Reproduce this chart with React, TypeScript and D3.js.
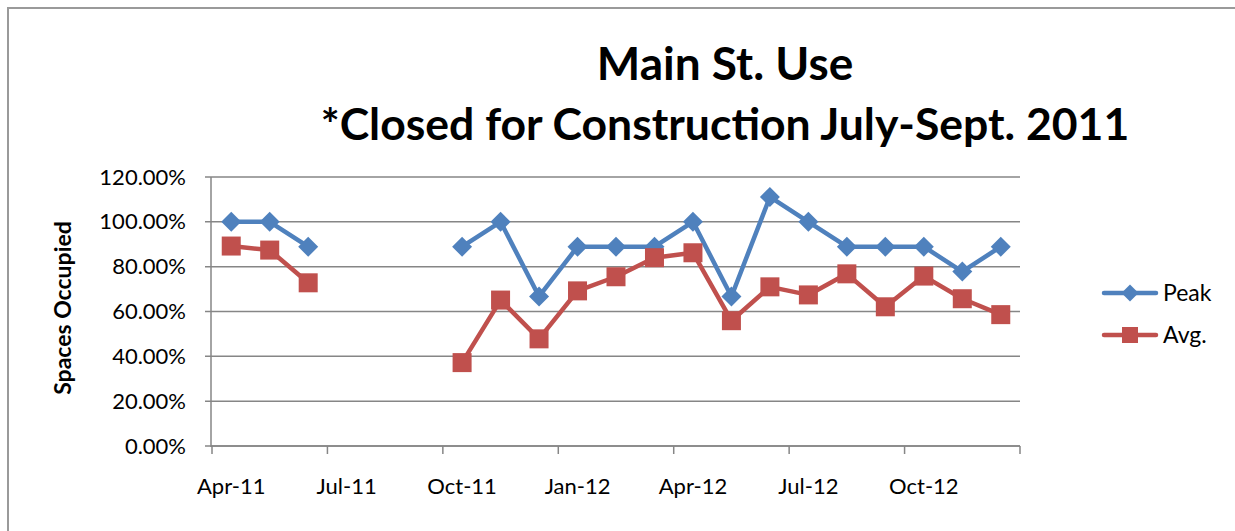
import React from "react";
import * as d3 from "d3";

const months = [
  "Apr-11", "May-11", "Jun-11", "Jul-11", "Aug-11", "Sep-11", "Oct-11", "Nov-11", "Dec-11",
  "Jan-12", "Feb-12", "Mar-12", "Apr-12", "May-12", "Jun-12", "Jul-12", "Aug-12", "Sep-12",
  "Oct-12", "Nov-12", "Dec-12",
];
const peak: (number | null)[] = [
  100, 100, 88.9, null, null, null, 88.9, 100, 66.7,
  88.9, 88.9, 88.9, 100, 66.7, 111.1, 100, 88.9, 88.9,
  88.9, 77.8, 88.9,
];
const avg: (number | null)[] = [
  89.2, 87.4, 72.8, null, null, null, 37.2, 65.1, 47.8,
  69.2, 75.5, 84.0, 86.2, 55.9, 71.0, 67.4, 76.8, 62.1,
  75.8, 65.7, 58.6,
];
const yTicks = [0, 20, 40, 60, 80, 100, 120];
const xTickLabels = ["Apr-11", "Jul-11", "Oct-11", "Jan-12", "Apr-12", "Jul-12", "Oct-12"];

const BLUE = "#4F81BD";
const RED = "#C0504D";
const GRID = "#868686";
const FONT = "Lato, 'Open Sans', sans-serif";

export default function App() {
  const W = 1235, H = 531;
  const left = 212, right = 1020, top = 177, bottom = 446;
  const x = d3.scaleLinear().domain([0, months.length]).range([left, right]);
  const y = d3.scaleLinear().domain([0, 120]).range([bottom, top]);
  const px = (i: number) => x(i + 0.5);

  const line = d3
    .line<number | null>()
    .defined((d) => d !== null)
    .x((_, i) => px(i))
    .y((d) => y(d as number));

  const tickIdx = d3.range(0, months.length + 1, 3);

  const diamond = (cx: number, cy: number, r: number) =>
    `M${cx},${cy - r}L${cx + r},${cy}L${cx},${cy + r}L${cx - r},${cy}Z`;

  return (
    <svg width={W} height={H} style={{ display: "block", position: "fixed", left: 0, top: 0, overflow: "hidden" }}>
      <rect x={0} y={0} width={W} height={H} fill="#fff" />
      <line x1={8} y1={8} x2={8} y2={H} stroke="#9a9a9a" strokeWidth={2} />
      <line x1={7} y1={8} x2={W} y2={8} stroke="#9a9a9a" strokeWidth={2} />
      <text x={725} y={80} textAnchor="middle" fontFamily={FONT} fontWeight="bold" fontSize={46} fill="#000">
        Main St. Use
      </text>
      <text x={725} y={140} textAnchor="middle" fontFamily={FONT} fontWeight="bold" fontSize={44.5} fill="#000">
        *Closed for Construction July-Sept. 2011
      </text>

      {yTicks.map((t) => (
        <g key={t}>
          <line x1={205} x2={right} y1={y(t)} y2={y(t)} stroke={GRID} strokeWidth={1.5} />
          <text x={186} y={y(t) + 7.5} textAnchor="end" fontFamily={FONT} fontSize={22} fill="#000">
            {t.toFixed(2)}%
          </text>
        </g>
      ))}
      <line x1={left - 1} x2={left - 1} y1={top} y2={bottom + 1} stroke={GRID} strokeWidth={1.5} />
      <line x1={left - 1} x2={right} y1={bottom} y2={bottom} stroke={GRID} strokeWidth={1.5} />
      {tickIdx.map((i) => (
        <line key={i} x1={x(i)} x2={x(i)} y1={bottom} y2={bottom + 8} stroke={GRID} strokeWidth={1.5} />
      ))}
      {xTickLabels.map((lab) => {
        const i = months.indexOf(lab);
        return (
          <text key={lab} x={px(i)} y={494} textAnchor="middle" fontFamily={FONT} fontSize={22} fill="#000">
            {lab}
          </text>
        );
      })}

      <text
        transform={`translate(71,308) rotate(-90)`}
        textAnchor="middle"
        fontFamily={FONT}
        fontWeight="bold"
        fontSize={23}
        fill="#000"
      >
        Spaces Occupied
      </text>

      <path d={line(peak) || ""} fill="none" stroke={BLUE} strokeWidth={4.5} strokeLinejoin="round" />
      {peak.map((d, i) =>
        d === null ? null : <path key={i} d={diamond(px(i), y(d), 10)} fill={BLUE} />
      )}
      <path d={line(avg) || ""} fill="none" stroke={RED} strokeWidth={4.5} strokeLinejoin="round" />
      {avg.map((d, i) =>
        d === null ? null : (
          <rect key={i} x={px(i) - 9.5} y={y(d) - 9.5} width={19} height={19} fill={RED} />
        )
      )}

      <line x1={1104} x2={1156} y1={293} y2={293} stroke={BLUE} strokeWidth={4.5} strokeLinecap="round" />
      <path d={diamond(1130, 293, 8.5)} fill={BLUE} />
      <text x={1163} y={301} fontFamily={FONT} fontSize={23} fill="#000">Peak</text>
      <line x1={1104} x2={1156} y1={335} y2={335} stroke={RED} strokeWidth={4.5} strokeLinecap="round" />
      <rect x={1122} y={327} width={16} height={16} fill={RED} />
      <text x={1163} y={343} fontFamily={FONT} fontSize={23} fill="#000">Avg.</text>
    </svg>
  );
}
